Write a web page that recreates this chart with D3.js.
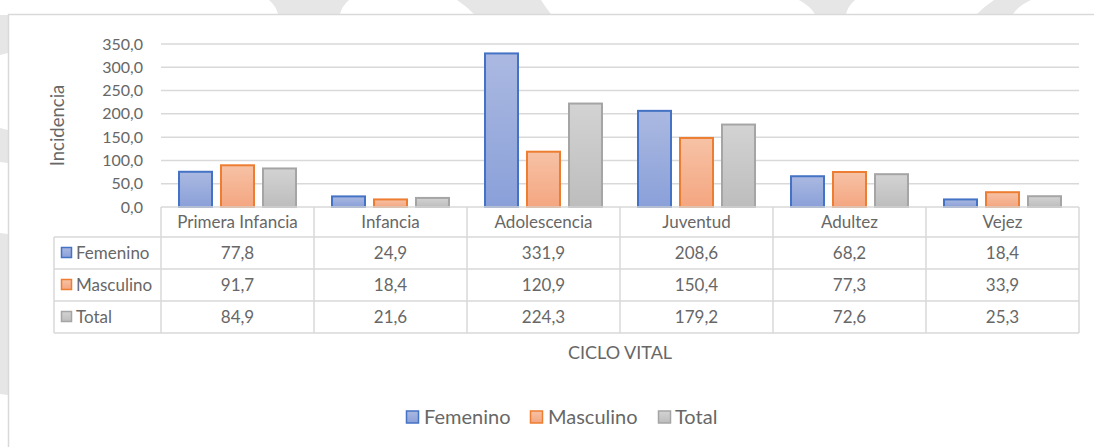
<!DOCTYPE html>
<html>
<head>
<meta charset="utf-8">
<script src="https://cdn.jsdelivr.net/npm/d3@7"></script>
<style>
  html, body { margin: 0; padding: 0; background: #fff; }
  svg { display: block; font-family: Lato, "Open Sans", sans-serif; }
</style>
</head>
<body>
<svg id="chart" width="1094" height="447"></svg>
<script>
// ==================== DATA ====================
const categories = ['Primera Infancia', 'Infancia', 'Adolescencia', 'Juventud', 'Adultez', 'Vejez'];
const seriesNames = ['Femenino', 'Masculino', 'Total'];
const femenino = [77.8, 24.9, 331.9, 208.6, 68.2, 18.4];
const masculino = [91.7, 18.4, 120.9, 150.4, 77.3, 33.9];
const total = [84.9, 21.6, 224.3, 179.2, 72.6, 25.3];
const yTicks = [0, 50, 100, 150, 200, 250, 300, 350];

const series = [
  { name: seriesNames[0], values: femenino, stroke: '#4472c4', top: '#abb9e1', bottom: '#8aa0d9' },
  { name: seriesNames[1], values: masculino, stroke: '#ed7d31', top: '#f7c2a6', bottom: '#f4a680' },
  { name: seriesNames[2], values: total, stroke: '#a5a5a5', top: '#d3d3d3', bottom: '#bdbdbd' },
];

const textColor = '#676767';
const lineColor = '#d9d9d9';
const fmt = (v) => v.toFixed(1).replace('.', ',');

const svg = d3.select('#chart');

// ---- background watermark pieces outside the chart box
const wm = svg.append('g').attr('fill', '#e6e6e6');
[
  'M269,0 L349,0 Q342,6 340,14 L278,14 Q276,6 269,0 Z',
  'M457,0 L541,0 Q546,8 551,14 L474,14 Q466,6 457,0 Z',
  'M799,0 L855,0 Q848,6 846,14 L815,14 Q810,6 799,0 Z',
  'M994,0 L1031,0 Q1018,6 1013,14 L977,14 Q985,6 994,0 Z',
  'M0,15 L8,15 L8,53 L0,55 Z',
  'M0,128 L8,130 L8,163 L0,162 Z',
  'M0,233 L8,234 L8,395 L0,394 Z',
].forEach((d) => wm.append('path').attr('d', d));

// ---- chart box
svg.append('rect')
  .attr('x', 8.5).attr('y', 14.5)
  .attr('width', 1100).attr('height', 450)
  .attr('fill', '#fff')
  .attr('stroke', lineColor)
  .attr('stroke-width', 1.5);

// ---- gradients
const defs = svg.append('defs');
series.forEach((s, i) => {
  const gr = defs.append('linearGradient')
    .attr('id', `grad${i}`)
    .attr('x1', 0).attr('y1', 0).attr('x2', 0).attr('y2', 1);
  gr.append('stop').attr('offset', '0%').attr('stop-color', s.top);
  gr.append('stop').attr('offset', '100%').attr('stop-color', s.bottom);
});

const plot = { left: 161, right: 1079, top: 44, bottom: 207 };
const rowH = 32;
const headerH = 30;
const tableLeft = 54;

const x0 = d3.scaleBand().domain(categories).range([plot.left, plot.right]).padding(0);
const x1 = d3.scaleBand().domain(seriesNames).range([0, x0.bandwidth()])
  .paddingInner(0.1667).paddingOuter(0.405);
const y = d3.scaleLinear().domain([0, 350]).range([plot.bottom, plot.top]);

// ---- gridlines
svg.append('g')
  .selectAll('line')
  .data(yTicks.filter((t) => t > 0))
  .join('line')
  .attr('x1', plot.left).attr('x2', plot.right)
  .attr('y1', (d) => y(d)).attr('y2', (d) => y(d))
  .attr('stroke', lineColor)
  .attr('stroke-width', 1.5);

// ---- y axis labels
const yAxis = svg.append('g')
  .attr('transform', `translate(${plot.left - 18},0)`)
  .call(d3.axisLeft(y).tickValues(yTicks).tickSize(0).tickPadding(0).tickFormat(fmt));
yAxis.select('.domain').remove();
yAxis.selectAll('text')
  .attr('font-family', 'Lato, "Open Sans", sans-serif')
  .attr('font-size', '16px')
  .attr('fill', textColor);

svg.append('text')
  .attr('transform', `translate(58,${(plot.top + plot.bottom) / 2}) rotate(-90)`)
  .attr('dy', '0.35em')
  .attr('text-anchor', 'middle')
  .attr('font-size', '18.5px')
  .attr('fill', textColor)
  .text('Incidencia');

// ---- bars
series.forEach((s, si) => {
  svg.append('g')
    .selectAll('rect')
    .data(s.values)
    .join('rect')
    .attr('x', (d, i) => x0(categories[i]) + x1(s.name) + 1)
    .attr('width', x1.bandwidth() - 2)
    .attr('y', (d) => y(d) + 1)
    .attr('height', (d) => Math.max(0, y(0) - y(d) - 1))
    .attr('fill', `url(#grad${si})`)
    .attr('stroke', s.stroke)
    .attr('stroke-width', 2);
});

// ---- data table
const table = svg.append('g').attr('stroke', lineColor).attr('stroke-width', 1.5);
const tableTop = plot.bottom;
const tableBottom = tableTop + headerH + rowH * series.length;

// axis line / header top
table.append('line')
  .attr('x1', plot.left).attr('x2', plot.right)
  .attr('y1', tableTop).attr('y2', tableTop);
// row lines
d3.range(series.length + 1).forEach((r) => {
  const yy = tableTop + headerH + r * rowH;
  table.append('line').attr('x1', tableLeft).attr('x2', plot.right).attr('y1', yy).attr('y2', yy);
});
// vertical lines
categories.concat(['__end']).forEach((c, i) => {
  const xx = i < categories.length ? x0(c) : plot.right;
  table.append('line').attr('x1', xx).attr('x2', xx).attr('y1', tableTop).attr('y2', tableBottom);
});
table.append('line')
  .attr('x1', tableLeft).attr('x2', tableLeft)
  .attr('y1', tableTop + headerH).attr('y2', tableBottom);

// header labels
svg.append('g')
  .selectAll('text')
  .data(categories)
  .join('text')
  .attr('x', (d) => x0(d) + x0.bandwidth() / 2)
  .attr('y', tableTop + headerH / 2)
  .attr('dy', '0.35em')
  .attr('text-anchor', 'middle')
  .attr('font-size', '17px')
  .attr('fill', textColor)
  .text((d) => d);

series.forEach((s, si) => {
  const cy = tableTop + headerH + si * rowH + rowH / 2;
  const row = svg.append('g');
  row.append('rect')
    .attr('x', 61.5).attr('y', cy - 5.5)
    .attr('width', 10).attr('height', 10)
    .attr('fill', `url(#grad${si})`)
    .attr('stroke', s.stroke)
    .attr('stroke-width', 1.5);
  row.append('text')
    .attr('x', 76)
    .attr('y', cy)
    .attr('dy', '0.35em')
    .attr('font-size', '17px')
    .attr('fill', textColor)
    .text(s.name);
  row.selectAll('text.val')
    .data(s.values)
    .join('text')
    .attr('class', 'val')
    .attr('x', (d, i) => x0(categories[i]) + x0.bandwidth() / 2)
    .attr('y', cy)
    .attr('dy', '0.35em')
    .attr('text-anchor', 'middle')
    .attr('font-size', '17px')
    .attr('fill', textColor)
    .text(fmt);
});

// ---- x axis title
svg.append('text')
  .attr('x', (plot.left + plot.right) / 2)
  .attr('y', 353)
  .attr('dy', '0.35em')
  .attr('text-anchor', 'middle')
  .attr('font-size', '18px')
  .attr('fill', textColor)
  .text('CICLO VITAL');

// ---- legend
const legendItems = [
  { x: 406, tx: 424 },
  { x: 530, tx: 548 },
  { x: 658, tx: 675 },
];
const legend = svg.append('g');
series.forEach((s, si) => {
  legend.append('rect')
    .attr('x', legendItems[si].x + 0.5).attr('y', 411)
    .attr('width', 12).attr('height', 12)
    .attr('fill', `url(#grad${si})`)
    .attr('stroke', s.stroke)
    .attr('stroke-width', 1.5);
  legend.append('text')
    .attr('x', legendItems[si].tx)
    .attr('y', 417)
    .attr('dy', '0.35em')
    .attr('font-size', '20px')
    .attr('fill', textColor)
    .text(s.name);
});
</script>
</body>
</html>
